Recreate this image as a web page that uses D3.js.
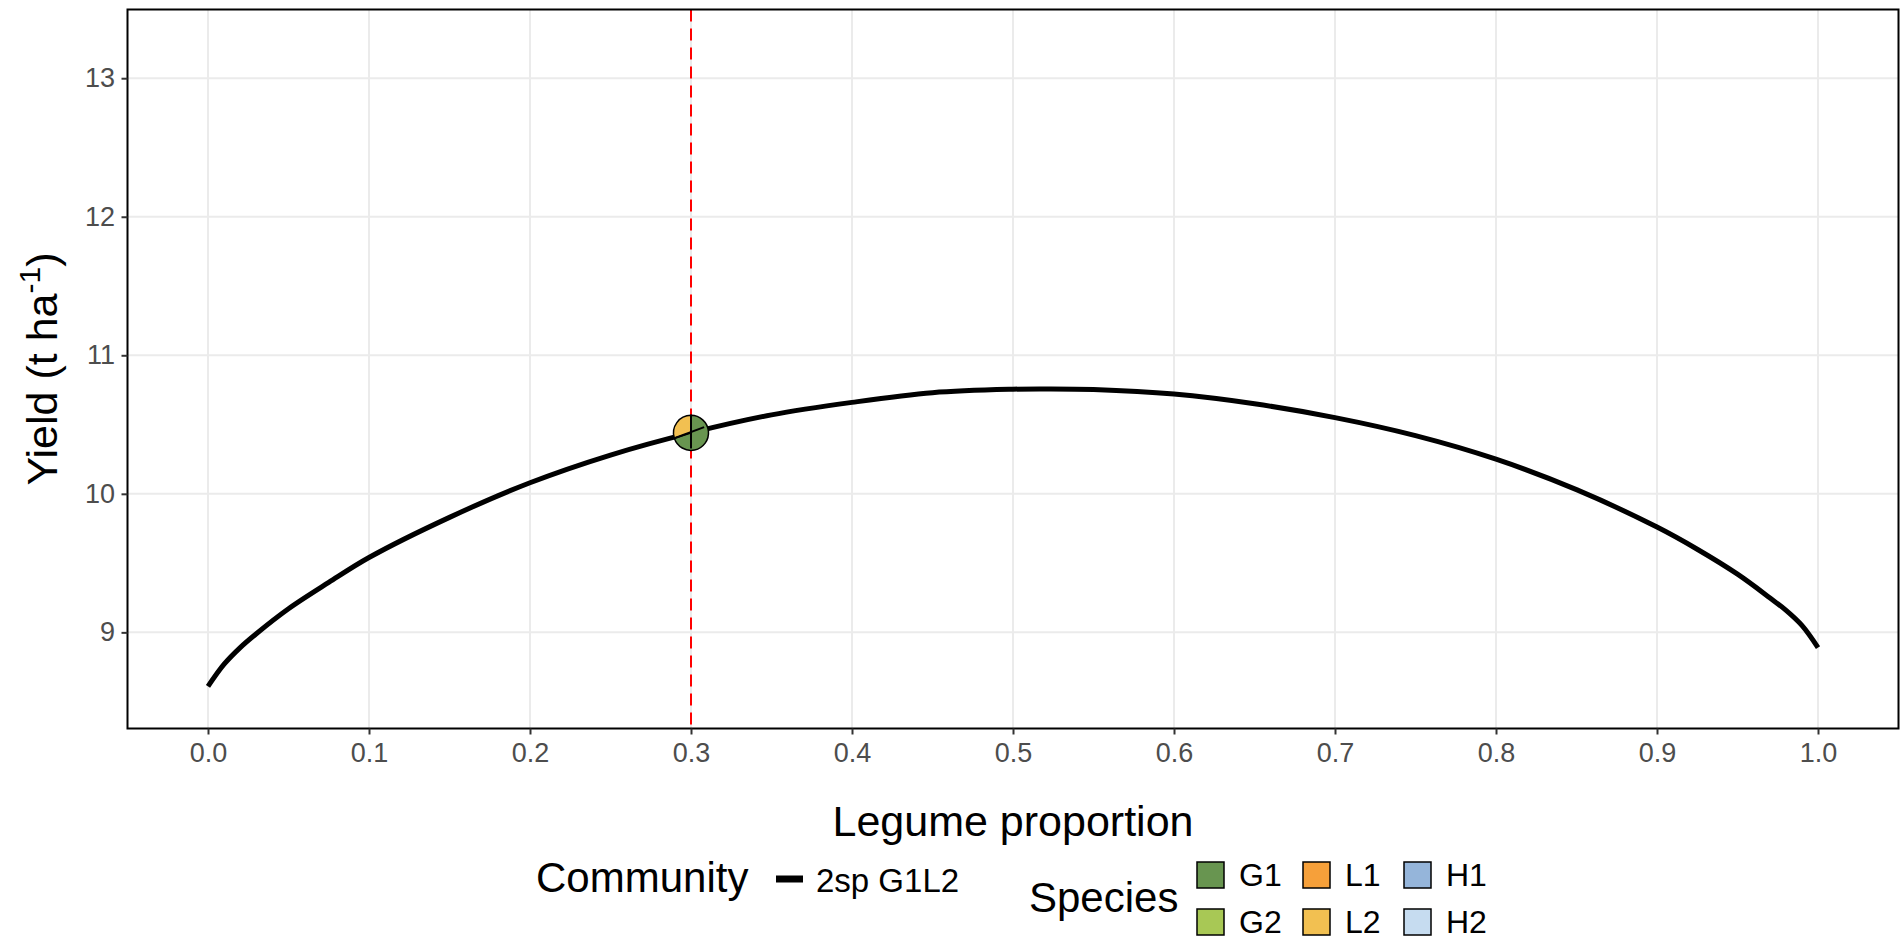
<!DOCTYPE html>
<html>
<head>
<meta charset="utf-8">
<script src="https://cdn.jsdelivr.net/npm/d3@7"></script>
<style>
  html, body { margin: 0; padding: 0; background: #fff; }
  svg { display: block; font-family: "Liberation Sans", Arial, Helvetica, sans-serif; }
</style>
</head>
<body>
<svg id="chart" width="1903" height="941"></svg>
<script>
// ---- data ----
const legumeProportion = [0, 0.01, 0.02, 0.03, 0.05, 0.075, 0.1, 0.15, 0.2, 0.25, 0.3, 0.35, 0.4, 0.45, 0.5, 0.52,
  0.55, 0.6, 0.65, 0.7, 0.75, 0.8, 0.85, 0.9, 0.925, 0.95, 0.97, 0.98, 0.99, 1.0];
const yieldValues = [8.61, 8.77, 8.89, 8.99, 9.17, 9.36, 9.54, 9.83, 10.08, 10.28, 10.44, 10.57, 10.66, 10.73, 10.755, 10.757,
  10.753, 10.72, 10.65, 10.55, 10.42, 10.25, 10.03, 9.76, 9.60, 9.42, 9.25, 9.16, 9.05, 8.89];
const xTicks = [0, 0.1, 0.2, 0.3, 0.4, 0.5, 0.6, 0.7, 0.8, 0.9, 1.0];
const yTicks = [9, 10, 11, 12, 13];
const xDomain = [-0.05, 1.05];
const yDomain = [8.306, 13.496];
const markerProportion = [0.3];
const markerYield = [10.44];
const pieSpecies = ["L2", "G1"];
const pieShares = [0.3, 0.7];
const speciesNames = ["G1", "G2", "L1", "L2", "H1", "H2"];
const speciesColors = ["#689550", "#A8C855", "#F6A03A", "#F2C051", "#95B5DA", "#C6DCF0"];
const communityLabel = ["2sp G1L2"];

// ---- layout ----
const panel = { left: 127.5, right: 1898.5, top: 9.5, bottom: 728.5 };
const svg = d3.select("#chart");

const x = d3.scaleLinear().domain(xDomain).range([panel.left, panel.right]);
const y = d3.scaleLinear().domain(yDomain).range([panel.bottom, panel.top]);
const colorOf = d3.scaleOrdinal().domain(speciesNames).range(speciesColors);

// grid
const grid = svg.append("g");
grid.selectAll("line.gx").data(xTicks).join("line")
  .attr("x1", d => x(d)).attr("x2", d => x(d))
  .attr("y1", panel.top).attr("y2", panel.bottom)
  .attr("stroke", "#EBEBEB").attr("stroke-width", 2);
grid.selectAll("line.gy").data(yTicks).join("line")
  .attr("x1", panel.left).attr("x2", panel.right)
  .attr("y1", d => y(d)).attr("y2", d => y(d))
  .attr("stroke", "#EBEBEB").attr("stroke-width", 2);

// red dashed reference line
svg.append("line")
  .attr("x1", x(markerProportion[0])).attr("x2", x(markerProportion[0]))
  .attr("y1", panel.top).attr("y2", panel.bottom)
  .attr("stroke", "#FF0000").attr("stroke-width", 2)
  .attr("stroke-dasharray", "12,7");

// curve
const curveData = legumeProportion.map((p, i) => ({ p, v: yieldValues[i] }));
svg.append("path")
  .datum(curveData)
  .attr("fill", "none")
  .attr("stroke", "#000")
  .attr("stroke-width", 5)
  .attr("stroke-linejoin", "round")
  .attr("d", d3.line().x(d => x(d.p)).y(d => y(d.v)).curve(d3.curveCatmullRom.alpha(0.5)));

// pie marker
const r = 17.5;
const pieGen = d3.pie().sort(null).startAngle(0).endAngle(-2 * Math.PI);
const arcs = pieGen(pieShares);
const pg = svg.append("g")
  .attr("transform", `translate(${x(markerProportion[0])},${y(markerYield[0])})`);
pg.selectAll("path").data(arcs).join("path")
  .attr("d", d3.arc().innerRadius(0).outerRadius(r))
  .attr("fill", (d, i) => colorOf(pieSpecies[i]))
  .attr("stroke", "#000").attr("stroke-width", 1.5);
pg.append("line").attr("x1", 0).attr("y1", -r).attr("x2", 0).attr("y2", r * 0.9)
  .attr("stroke", "#000").attr("stroke-width", 2);
pg.append("line").attr("x1", -r * 0.95).attr("y1", r * 0.31).attr("x2", r * 0.75).attr("y2", -r * 0.33)
  .attr("stroke", "#000").attr("stroke-width", 2);

// panel border
svg.append("rect")
  .attr("x", panel.left).attr("y", panel.top)
  .attr("width", panel.right - panel.left).attr("height", panel.bottom - panel.top)
  .attr("fill", "none").attr("stroke", "#000").attr("stroke-width", 2);

// axes
const xAxis = svg.append("g")
  .attr("transform", `translate(0,${panel.bottom})`)
  .call(d3.axisBottom(x).tickValues(xTicks).tickFormat(d3.format(".1f")).tickSize(6).tickPadding(8));
const yAxis = svg.append("g")
  .attr("transform", `translate(${panel.left},0)`)
  .call(d3.axisLeft(y).tickValues(yTicks).tickFormat(d3.format("d")).tickSize(6).tickPadding(6.5));
[xAxis, yAxis].forEach(a => {
  a.select(".domain").remove();
  a.selectAll(".tick line").attr("stroke", "#333333").attr("stroke-width", 2);
  a.selectAll(".tick text").attr("fill", "#4D4D4D")
    .style("font-size", "27px")
    .style("font-family", '"Liberation Sans", Arial, Helvetica, sans-serif');
});

// axis titles
svg.append("text")
  .attr("x", (panel.left + panel.right) / 2).attr("y", 835.5)
  .attr("text-anchor", "middle")
  .style("font-size", "43px").attr("fill", "#000")
  .text("Legume proportion");

const yt = svg.append("text")
  .attr("transform", `translate(57,${(panel.top + panel.bottom) / 2}) rotate(-90)`)
  .attr("text-anchor", "middle")
  .style("font-size", "43px").attr("fill", "#000");
yt.append("tspan").text("Yield (t ha");
yt.append("tspan").attr("dy", -17).style("font-size", "30px").text("-1");
yt.append("tspan").attr("dy", 17).text(")");

// legend: Community
svg.append("text").attr("x", 536).attr("y", 892)
  .style("font-size", "42px").attr("fill", "#000").text("Community");
svg.append("line").attr("x1", 776).attr("x2", 803).attr("y1", 879).attr("y2", 879)
  .attr("stroke", "#000").attr("stroke-width", 7);
svg.selectAll("text.comm").data(communityLabel).join("text")
  .attr("class", "comm")
  .attr("x", 816).attr("y", 892)
  .style("font-size", "33px").attr("fill", "#000").text(d => d);

// legend: Species
svg.append("text").attr("x", 1029).attr("y", 912)
  .style("font-size", "42px").attr("fill", "#000").text("Species");
const colX = [1197, 1303, 1404];
const rowY = [862, 909];
const keys = speciesNames.map((s, i) => ({ s, col: Math.floor(i / 2), row: i % 2 }));
const kg = svg.append("g");
kg.selectAll("rect").data(keys).join("rect")
  .attr("x", d => colX[d.col]).attr("y", d => rowY[d.row])
  .attr("width", 27).attr("height", 26)
  .attr("fill", d => colorOf(d.s))
  .attr("stroke", "#000").attr("stroke-width", 1.5);
kg.selectAll("text").data(keys).join("text")
  .attr("x", d => colX[d.col] + 42).attr("y", d => rowY[d.row] + 13)
  .attr("dominant-baseline", "central")
  .style("font-size", "32px").attr("fill", "#000")
  .text(d => d.s);
</script>
</body>
</html>
